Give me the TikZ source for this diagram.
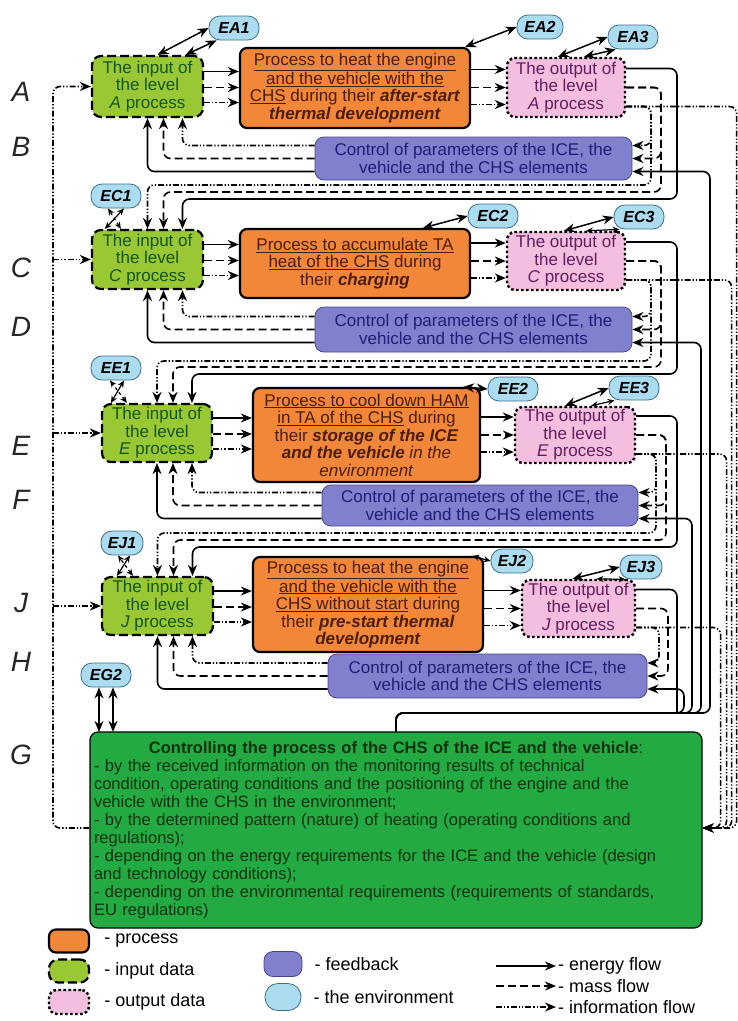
\documentclass[tikz,border=0pt]{standalone}
\usepackage{fontspec}
\setmainfont{Liberation Sans}
\usetikzlibrary{arrows.meta,positioning}

\definecolor{procorange}{RGB}{242,135,58}
\definecolor{ingreen}{RGB}{154,200,52}
\definecolor{outpink}{RGB}{244,190,222}
\definecolor{fbblue}{RGB}{128,128,206}
\definecolor{envblue}{RGB}{172,220,240}
\definecolor{ctrlgreen}{RGB}{36,170,66}
\definecolor{procink}{RGB}{75,30,5}
\definecolor{inink}{RGB}{20,85,25}
\definecolor{outink}{RGB}{95,30,95}
\definecolor{fbink}{RGB}{30,30,120}
\definecolor{ctrlink}{RGB}{10,50,15}
\definecolor{envline}{RGB}{60,110,140}
\definecolor{fbline}{RGB}{70,70,140}

\begin{document}
\begin{tikzpicture}[x=1pt, y=-1pt, >={Stealth[length=11pt,width=9pt]},
  boxfont/.style={font=\fontsize{17}{17.5}\selectfont},
  procbox/.style={draw, line width=2.2pt, rounded corners=7pt, fill=procorange, text=procink, align=center, inner sep=1pt, boxfont},
  inbox/.style={draw, line width=2.2pt, dash pattern=on 9pt off 4pt, rounded corners=9pt, fill=ingreen, text=inink, align=center, inner sep=1pt, boxfont},
  outbox/.style={draw, line width=2.4pt, dash pattern=on 2.6pt off 2.4pt, rounded corners=8pt, fill=outpink, text=outink, align=center, inner sep=1pt, boxfont},
  fbbox/.style={draw=fbline, line width=0.8pt, rounded corners=9pt, fill=fbblue, text=fbink, align=center, inner sep=1pt, boxfont},
  envbox/.style={draw=envline, line width=0.8pt, rounded corners=11pt, fill=envblue, minimum width=50pt, minimum height=24pt, inner sep=1pt, font=\fontsize{16}{16}\selectfont\bfseries\itshape},
  ctrlbox/.style={draw, line width=1.2pt, rounded corners=8pt, fill=ctrlgreen, text=ctrlink, align=left, inner sep=4pt, font=\fontsize{16.5}{18}\selectfont},
  rowlabel/.style={font=\fontsize{28}{28}\selectfont\itshape, text=black!85},
  legtext/.style={anchor=west, inner sep=0pt, font=\fontsize{18}{18}\selectfont},
  flow/.style={line width=1.6pt, rounded corners=7pt},
  energy/.style={flow, ->},
  mass/.style={flow, ->, dash pattern=on 8pt off 4pt},
  info/.style={flow, ->, dash pattern=on 6pt off 2pt on 1.3pt off 2pt on 1.3pt off 2pt},
  envlink/.style={<->, line width=1.5pt},
  envsmall/.style={<->, line width=1.2pt, >={Stealth[length=7pt,width=6pt]}}
]
\useasboundingbox (0,0) rectangle (738,1021);

% level letters
\node[rowlabel] (lA) at (21,92) {A};
\node[rowlabel] (lB) at (21,147) {B};
\node[rowlabel] (lC) at (21,268) {C};
\node[rowlabel] (lD) at (21,327) {D};
\node[rowlabel] (lE) at (21,446) {E};
\node[rowlabel] (lF) at (21,500) {F};
\node[rowlabel] (lJ) at (21,603) {J};
\node[rowlabel] (lH) at (21,662) {H};
\node[rowlabel] (lG) at (21,755) {G};

% level A
\node[inbox, minimum width=111pt, minimum height=61pt] (inA) at (147.5,86.5) {The input of\\the level\\\textit{A} process};
\node[procbox, minimum width=230pt, minimum height=80pt] (procA) at (355,88) {\underline{Process to heat the engine}\\\underline{and the vehicle with the}\\\underline{CHS} during their \textbf{\textit{after-start}}\\\textbf{\textit{thermal development}}};
\node[outbox, minimum width=118pt, minimum height=59pt] (outA) at (566,87.5) {The output of\\the level\\\textit{A} process};
\node[fbbox, minimum width=317pt, minimum height=43pt] (ctrlB) at (473.5,158.5) {Control of parameters of the ICE, the\\vehicle and the CHS elements};

% level C
\node[inbox, minimum width=111pt, minimum height=59pt] (inC) at (147.5,259.5) {The input of\\the level\\\textit{C} process};
\node[procbox, minimum width=230pt, minimum height=69pt] (procC) at (355,263.5) {\underline{Process to accumulate TA}\\\underline{heat of the CHS} during\\their \textbf{\textit{charging}}};
\node[outbox, minimum width=118pt, minimum height=58pt] (outC) at (566,261) {The output of\\the level\\\textit{C} process};
\node[fbbox, minimum width=317pt, minimum height=45pt] (ctrlD) at (473.5,329.5) {Control of parameters of the ICE, the\\vehicle and the CHS elements};

% level E
\node[inbox, minimum width=110pt, minimum height=58pt] (inE) at (157,433) {The input of\\the level\\\textit{E} process};
\node[procbox, minimum width=227pt, minimum height=94pt] (procE) at (366.5,435) {\underline{Process to cool down HAM}\\\underline{in TA of the CHS} during\\their \textbf{\textit{storage of the ICE}}\\\textbf{\textit{and the vehicle}} \textit{in the}\\\textit{environment}};
\node[outbox, minimum width=120pt, minimum height=56pt] (outE) at (575,435) {The output of\\the level\\\textit{E} process};
\node[fbbox, minimum width=316pt, minimum height=41pt] (ctrlF) at (480,505.5) {Control of parameters of the ICE, the\\vehicle and the CHS elements};

% level J
\node[inbox, minimum width=111pt, minimum height=58pt] (inJ) at (157.5,606) {The input of\\the level\\\textit{J} process};
\node[procbox, minimum width=230pt, minimum height=95pt] (procJ) at (368,604.5) {\underline{Process to heat the engine}\\\underline{and the vehicle with the}\\\underline{CHS without start} during\\their \textbf{\textit{pre-start thermal}}\\\textbf{\textit{development}}};
\node[outbox, minimum width=113pt, minimum height=57pt] (outJ) at (578.5,608.5) {The output of\\the level\\\textit{J} process};
\node[fbbox, minimum width=319pt, minimum height=44pt] (ctrlH) at (487.5,676) {Control of parameters of the ICE, the\\vehicle and the CHS elements};

% level G
\node[ctrlbox, minimum width=612pt, minimum height=196pt, text width=604pt] (G) at (396,830) {\makebox[604pt][c]{\textbf{Controlling the process of the CHS of the ICE and the vehicle}:}\\- by the received information on the monitoring results of technical\\condition, operating conditions and the positioning of the engine and the\\vehicle with the CHS in the environment;\\- by the determined pattern (nature) of heating (operating conditions and\\regulations);\\- depending on the energy requirements for the ICE and the vehicle (design\\and technology conditions);\\- depending on the environmental requirements (requirements of standards,\\EU regulations)};

% environment
\node[envbox] (envA1) at (234,28) {EA1};
\node[envbox, minimum width=46pt] (envA2) at (540,27) {EA2};
\node[envbox] (envA3) at (633,37) {EA3};
\node[envbox] (envC1) at (116,196) {EC1};
\node[envbox] (envC2) at (493,216) {EC2};
\node[envbox] (envC3) at (639,217) {EC3};
\node[envbox] (envE1) at (116,368) {EE1};
\node[envbox] (envE2) at (513,389) {EE2};
\node[envbox] (envE3) at (634,388) {EE3};
\node[envbox, minimum width=42pt] (envJ1) at (122,543) {EJ1};
\node[envbox, minimum width=42pt] (envJ2) at (512,561) {EJ2};
\node[envbox, minimum width=42pt] (envJ3) at (641,567) {EJ3};
\node[envbox] (envG2) at (106,675) {EG2};

\draw[envlink] ([xshift=10pt]inA.north) -- (envA1.west);
\draw[envlink] ([xshift=38pt]inA.north) -- ([xshift=8pt]envA1.south west);
\draw[envlink] ([xshift=-6pt]procA.north east) -- (envA2.west);
\draw[envlink] ([xshift=-8pt]outA.north) -- (envA3.west);
\draw[envlink] ([xshift=18pt]outA.north) -- ([xshift=8pt]envA3.south west);
\draw[envsmall] ([xshift=14pt]inC.north west) -- ([xshift=8pt]envC1.south);
\draw[envsmall, dashed] ([xshift=30pt]inC.north west) -- ([xshift=-8pt]envC1.south);
\draw[envlink] ([xshift=-48pt]procC.north east) -- (envC2.west);
\draw[envlink] ([xshift=-2pt]outC.north) -- (envC3.west);
\draw[envsmall] ([xshift=20pt]outC.north) -- ([xshift=6pt]envC3.south west);
\draw[envsmall] ([xshift=10pt]inE.north west) -- ([xshift=8pt]envE1.south);
\draw[envsmall, dashed] ([xshift=26pt]inE.north west) -- ([xshift=-6pt]envE1.south);
\draw[envlink] ([xshift=-18pt]procE.north east) -- (envE2.west);
\draw[envlink] ([xshift=-10pt]outE.north) -- (envE3.west);
\draw[envsmall] ([xshift=16pt]outE.north) -- ([xshift=6pt]envE3.south west);
\draw[envsmall] ([xshift=16pt]inJ.north west) -- ([xshift=8pt]envJ1.south);
\draw[envsmall, dashed] ([xshift=32pt]inJ.north west) -- ([xshift=-4pt]envJ1.south);
\draw[envsmall] ([xshift=-12pt]procJ.north east) -- (envJ2.west);
\draw[envlink] ([xshift=-6pt]outJ.north) -- (envJ3.west);
\draw[envsmall] ([xshift=18pt]outJ.north) -- ([xshift=6pt]envJ3.south west);
\draw[envlink] ([xshift=-7pt]envG2.south) -- ++(0,44.5);
\draw[envlink] ([xshift=7pt]envG2.south) -- ++(0,44.5);

% flows inside each level
\foreach \lv/\ct/\xd/\xm/\yc in {A/B/651/661/158.5, C/D/651/661/329.5, E/F/656/666/505.5, J/H/659/668/676} {
  \draw[energy] ([yshift=15pt]in\lv.east) -- ([yshift=15pt]in\lv.east -| proc\lv.west);
  \draw[mass] ([yshift=-1pt]in\lv.east) -- ([yshift=-1pt]in\lv.east -| proc\lv.west);
  \draw[info] ([yshift=-16pt]in\lv.east) -- ([yshift=-16pt]in\lv.east -| proc\lv.west);
  \draw[energy] ([yshift=18pt]out\lv.west -| proc\lv.east) -- ([yshift=18pt]out\lv.west);
  \draw[mass] (out\lv.west -| proc\lv.east) -- (out\lv.west);
  \draw[info] ([yshift=-17pt]out\lv.west -| proc\lv.east) -- ([yshift=-17pt]out\lv.west);
  \draw[info] ([yshift=13pt]ctrl\ct.west) -| ([xshift=35pt]in\lv.south);
  \draw[mass] (ctrl\ct.west) -| ([xshift=16pt]in\lv.south);
  \draw[energy] ([yshift=-13pt]ctrl\ct.west) -| (in\lv.south);
  \draw[info] ([yshift=-19pt]out\lv.east) -| (\xd,{\yc-13}) -- ([yshift=13pt]ctrl\ct.east);
  \draw[mass] (out\lv.east) -| (\xm,\yc) -- (ctrl\ct.east);
}

% from one level to the next
\foreach \lv/\nx/\xd/\xm/\ya/\yb/\ycc in {A/C/651/661/185/192/199, C/E/651/661/361/367/374, E/J/656/666/533/540/547} {
  \draw[info] ([yshift=-19pt]out\lv.east) -| (\xd,\ya) -| (in\nx.north);
  \draw[mass] (out\lv.east) -| (\xm,\yb) -| ([xshift=16pt]in\nx.north);
  \draw[energy] ([yshift=19pt]out\lv.east) -| (677,\ycc) -| ([xshift=35pt]in\nx.north);
}
\draw[flow] ([yshift=19pt]outJ.east) -| (677,713);

% control G
\foreach \ct/\bx in {B/710, D/701, F/692, H/684}
  \draw[energy] (G.north) |- (\bx,713) |- ([yshift=-13pt]ctrl\ct.east);
\foreach \lv/\dx in {A/34, C/29, E/24, J/18}
  \draw[info] ([yshift=-19pt]out\lv.east) -| ([xshift=\dx pt,yshift=2pt]G.east) -- ([yshift=2pt]G.east);
\coordinate (leftbus) at (53,0);
\draw[info] ([yshift=2pt]G.west) -| (leftbus |- inA.west) -- (inA.west);
\foreach \lv in {C,E,J}
  \draw[info] (leftbus |- in\lv.west) -- (in\lv.west);

% legend
\node[procbox, minimum width=40pt, minimum height=23pt] (lgproc) at (69,941) {};
\node[legtext, right=14pt of lgproc] (lgproctxt) {- process};
\node[inbox, minimum width=40pt, minimum height=23pt] (lgin) at (69,971) {};
\node[legtext, right=14pt of lgin] (lgintxt) {- input data};
\node[outbox, minimum width=40pt, minimum height=24pt] (lgout) at (69,1002) {};
\node[legtext, right=14pt of lgout] (lgouttxt) {- output data};
\node[fbbox, minimum width=38pt, minimum height=25pt] (lgfb) at (283,964) {};
\node[legtext, right=12pt of lgfb] (lgfbtxt) {- feedback};
\node[envbox, minimum width=36pt, minimum height=27pt, rounded corners=13pt] (lgenv) at (283,997) {};
\node[legtext, right=12pt of lgenv] (lgenvtxt) {- the environment};
\node[legtext] (lgenergy) at (558,966) {- energy flow};
\node[legtext] (lgmass) at (558,986) {- mass flow};
\node[legtext] (lginfo) at (558,1007) {- information flow};
\draw[energy] ([xshift=-62pt]lgenergy.west) -- ([xshift=-2pt]lgenergy.west);
\draw[mass] ([xshift=-62pt]lgmass.west) -- ([xshift=-2pt]lgmass.west);
\draw[info] ([xshift=-62pt]lginfo.west) -- ([xshift=-2pt]lginfo.west);
\end{tikzpicture}
\end{document}
